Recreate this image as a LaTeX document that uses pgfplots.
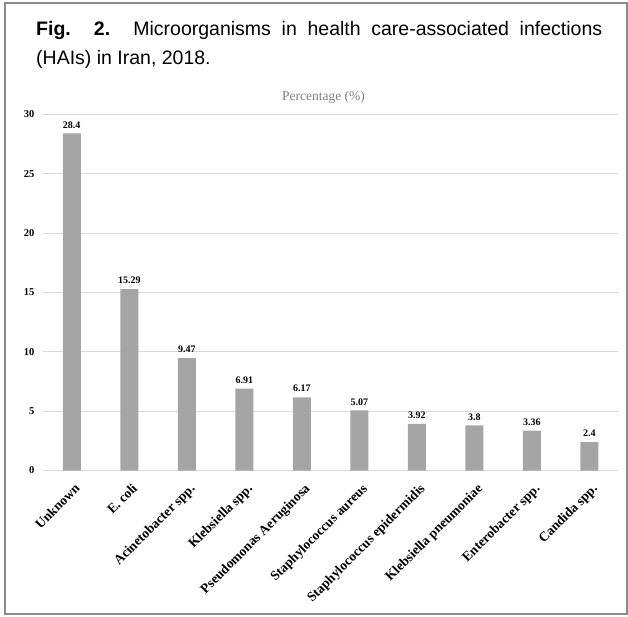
\documentclass[border=0pt]{standalone}
\usepackage{pgfplots}
\pgfplotsset{compat=1.18}
\usepackage{fontspec}
\setmainfont{Liberation Serif}
\newfontfamily\titlefont{Liberation Sans}
\definecolor{barc}{HTML}{A5A5A5}
\definecolor{gridc}{HTML}{D9D9D9}
\definecolor{framec}{HTML}{8C8C8C}
\definecolor{labc}{HTML}{808080}
\begin{document}
\begin{tikzpicture}
\useasboundingbox (0pt,0pt) rectangle (628pt,-616pt);
\draw[draw=framec, line width=1.2pt] (5pt,-3pt) rectangle (627pt,-614pt);
\node[anchor=north west, inner sep=0pt, text width=566pt, align=justify,
      font=\titlefont\fontsize{19.5}{29.5}\selectfont] at (36pt,-21pt)
  {\textbf{Fig. 2.} Microorganisms in health care-associated infections\linebreak (HAIs) in Iran, 2018.};
\begin{axis}[
  at={(43pt,-470.5pt)}, anchor=south west,
  width=575pt, height=356pt, scale only axis,
  xmin=-0.5, xmax=9.5, ymin=0, ymax=30,
  axis line style={draw=none},
  ymajorgrids, grid style={draw=gridc, line width=0.9pt},
  major tick length=0pt,
  ytick={0,5,10,15,20,25,30},
  xtick={0,1,2,3,4,5,6,7,8,9},
  xticklabels={Unknown, E. coli, Acinetobacter spp., Klebsiella spp., Pseudomonas Aeruginosa, Staphylococcus aureus, Staphylococcus epidermidis, Klebsiella pneumoniae, Enterobacter spp., Candida spp.},
  /pgf/number format/assume math mode=true,
  yticklabel style={font=\bfseries\fontsize{10.5}{12}\selectfont, xshift=-5pt},
  xticklabel style={font=\bfseries\fontsize{13.5}{15}\selectfont, rotate=45, anchor=north east, inner sep=0pt, xshift=-7pt, yshift=-10pt},
  title={Percentage (\%)},
  title style={font=\fontsize{13.5}{15}\selectfont, text=labc, at={(0.5,1)}, anchor=south, inner sep=0pt, xshift=-7pt, yshift=5pt},
  ybar, bar width=18pt,
  nodes near coords,
  every node near coord/.append style={font=\bfseries\fontsize{10}{11}\selectfont, text=black, inner sep=0pt, yshift=5pt},
]
\addplot[fill=barc, draw=none] coordinates {
  (0,28.4) (1,15.29) (2,9.47) (3,6.91) (4,6.17) (5,5.07) (6,3.92) (7,3.8) (8,3.36) (9,2.4)
};
\end{axis}
\end{tikzpicture}
\end{document}
